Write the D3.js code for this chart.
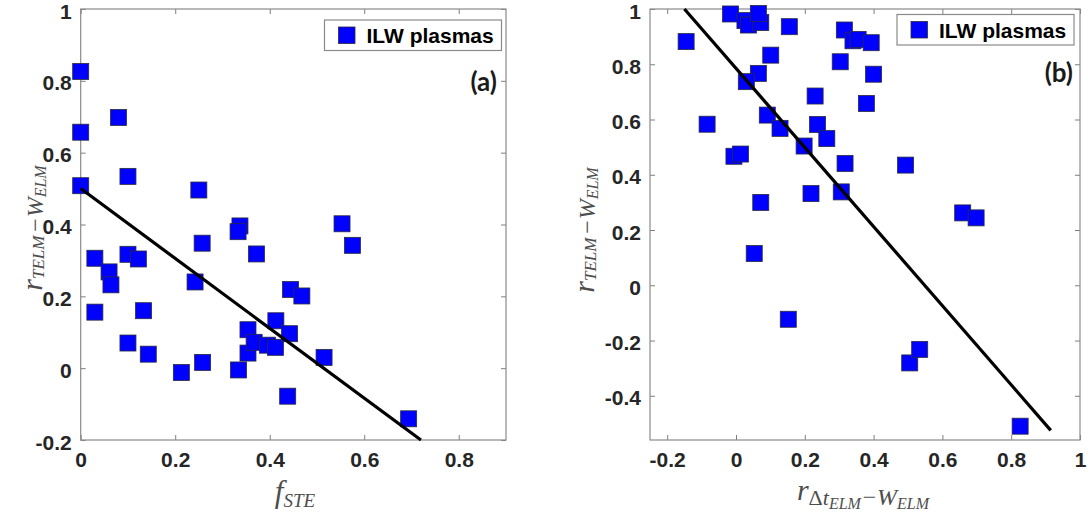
<!DOCTYPE html>
<meta charset="utf-8">
<style>
body { margin: 0; background: #fff; }
.tick text { font-family: "Liberation Sans", Arial, sans-serif; font-weight: bold; font-size: 21px; fill: #262626; }
.tick line { stroke: #7f7f7f; }
.frame { fill: none; stroke: #8a8a8a; stroke-width: 1.2px; }
.lab { font-family: "Liberation Serif", "DejaVu Serif", serif; font-style: italic; fill: #4d4d4d; }
.leg text { font-family: "Liberation Sans", Arial, sans-serif; font-weight: bold; font-size: 21px; fill: #000; }
.tag { font-family: Lato, "Open Sans", sans-serif; font-weight: bold; font-size: 26px; fill: #1a1a1a; }
</style>
<svg width="1090" height="516"></svg>
<script src="https://cdnjs.cloudflare.com/ajax/libs/d3/7.8.5/d3.min.js"></script>
<script>

// panel (a): f_STE vs r
var aX = [0, 0, 0, 0.08, 0.10, 0.03, 0.06, 0.064, 0.03, 0.10, 0.122, 0.133, 0.10, 0.143, 0.213, 0.258,
          0.25, 0.257, 0.242, 0.337, 0.333, 0.372, 0.334, 0.354, 0.354, 0.367, 0.395, 0.412, 0.413,
          0.442, 0.444, 0.468, 0.438, 0.515, 0.553, 0.575, 0.694];
var aY = [0.826, 0.657, 0.508, 0.698, 0.534, 0.306, 0.268, 0.232, 0.156, 0.317, 0.304, 0.160, 0.070,
          0.039, -0.012, 0.016, 0.496, 0.348, 0.240, 0.396, 0.38, 0.318, -0.005, 0.107, 0.042, 0.072,
          0.064, 0.058, 0.132, 0.096, 0.219, 0.201, -0.078, 0.030, 0.402, 0.342, -0.141];
var aFit = [[0, 0.5], [0.72, -0.2]];

// panel (b): r_dt vs r
var bX = [-0.145, -0.084, -0.016, 0.026, 0.036, 0.072, 0.065, 0.155, 0.101, 0.065, 0.030, 0.091,
          0.128, -0.006, 0.013, 0.072, 0.053, 0.152, 0.198, 0.230, 0.237, 0.264, 0.218, 0.303, 0.315,
          0.340, 0.355, 0.393, 0.400, 0.379, 0.317, 0.306, 0.493, 0.505, 0.534, 0.659, 0.698, 0.826];
var bY = [0.882, 0.583, 0.982, 0.958, 0.942, 0.951, 0.984, 0.936, 0.833, 0.767, 0.737, 0.616, 0.568,
          0.467, 0.475, 0.300, 0.115, -0.123, 0.504, 0.685, 0.582, 0.531, 0.332, 0.809, 0.924, 0.885,
          0.89, 0.878, 0.764, 0.658, 0.441, 0.338, 0.435, -0.281, -0.232, 0.262, 0.244, -0.510];
var bFit = [[-0.15, 1.0], [0.915, -0.525]];

var aXTicks = [0, 0.2, 0.4, 0.6, 0.8];
var aYTicks = [-0.2, 0, 0.2, 0.4, 0.6, 0.8, 1];
var bXTicks = [-0.2, 0, 0.2, 0.4, 0.6, 0.8, 1];
var bYTicks = [-0.4, -0.2, 0, 0.2, 0.4, 0.6, 0.8, 1];

var legendLabel = "ILW plasmas";

var svg = d3.select("svg");
// matlab style labels, plain hyphen for negatives
var fmt = function(d) { return String(+d.toFixed(1)); };

function panel(opt) {
  var x = d3.scaleLinear().domain(opt.xd).range(opt.xr);
  var y = d3.scaleLinear().domain(opt.yd).range([440, 9]);
  var g = svg.append("g");

  g.append("g").attr("transform", "translate(0,440)")
    .call(d3.axisBottom(x).tickValues(opt.xt).tickFormat(fmt).tickSizeInner(-5).tickSizeOuter(0).tickPadding(12));
  g.append("g").attr("transform", "translate(0,9)")
    .call(d3.axisTop(x).tickValues(opt.xt).tickFormat("").tickSizeInner(-5).tickSizeOuter(0));
  g.append("g").attr("class", "yax").attr("transform", "translate(" + opt.xr[0] + ",0)")
    .call(d3.axisLeft(y).tickValues(opt.yt).tickFormat(fmt).tickSizeInner(-5).tickSizeOuter(0).tickPadding(9));
  g.append("g").attr("transform", "translate(" + opt.xr[1] + ",0)")
    .call(d3.axisRight(y).tickValues(opt.yt).tickFormat("").tickSizeInner(-5).tickSizeOuter(0));
  g.selectAll(".domain").remove();
  g.selectAll(".yax .tick text").attr("dy", "0.43em");

  g.append("rect").attr("class", "frame")
    .attr("x", opt.xr[0]).attr("y", 9)
    .attr("width", opt.xr[1] - opt.xr[0]).attr("height", 431);

  var pts = opt.px.map(function(v, i) { return [v, opt.py[i]]; });
  g.append("g").selectAll("rect").data(pts).enter().append("rect")
    .attr("x", function(d) { return x(d[0]) - 8; })
    .attr("y", function(d) { return y(d[1]) - 8; })
    .attr("width", 16).attr("height", 16)
    .attr("fill", "#0000ff").attr("stroke", "#2a2a40").attr("stroke-width", 0.8);

  g.append("line")
    .attr("x1", x(opt.fit[0][0])).attr("y1", y(opt.fit[0][1]))
    .attr("x2", x(opt.fit[1][0])).attr("y2", y(opt.fit[1][1]))
    .attr("stroke", "#000").attr("stroke-width", 3.2);

  // legend
  var lg = g.append("g").attr("class", "leg");
  lg.append("rect").attr("x", opt.leg[0]).attr("y", opt.leg[1]).attr("width", 177).attr("height", 30.5)
    .attr("fill", "#fff").attr("stroke", "#8a8a8a").attr("stroke-width", 1.2);
  lg.append("rect").attr("x", opt.leg[0] + 14).attr("y", opt.leg[1] + 7).attr("width", 16.5).attr("height", 16.5)
    .attr("fill", "#0000ff").attr("stroke", "#2a2a40").attr("stroke-width", 0.8);
  lg.append("text").attr("x", opt.leg[0] + 42).attr("y", opt.leg[1] + 23).text(legendLabel);

  g.append("text").attr("class", "tag").attr("x", opt.tag[0]).attr("y", opt.tag[1])
    .attr("text-anchor", "end").text(opt.tagText);
}

panel({ xd: [0, 0.9], xr: [80.7, 506], yd: [-0.2, 1], xt: aXTicks, yt: aYTicks,
        px: aX, py: aY, fit: aFit, leg: [324.5, 20], tag: [497, 91], tagText: "(a)" });
panel({ xd: [-0.25, 1], xr: [650, 1080], yd: [-0.56, 1], xt: bXTicks, yt: bYTicks,
        px: bX, py: bY, fit: bFit, leg: [897, 14.5], tag: [1073, 82], tagText: "(b)" });

// axis labels
var la = svg.append("text").attr("class", "lab").attr("x", 295).attr("y", 502).attr("text-anchor", "middle");
la.append("tspan").attr("font-size", 31).text("f");
la.append("tspan").attr("font-size", 19).attr("dy", 5).text("STE");

function yLabel(cx, cy) {
  var t = svg.append("text").attr("class", "lab")
    .attr("transform", "translate(" + cx + "," + cy + ") rotate(-90)").attr("text-anchor", "middle");
  t.append("tspan").attr("font-size", 30).text("r");
  t.append("tspan").attr("font-size", 17).attr("dy", 2).text("TELM");
  t.append("tspan").attr("font-size", 24).attr("dx", 2).attr("dy", -1).text("\u2212W");
  t.append("tspan").attr("font-size", 16).attr("dy", 3).text("ELM");
}
yLabel(42, 228);
yLabel(594, 230);

var lb = svg.append("text").attr("class", "lab").attr("x", 863).attr("y", 500).attr("text-anchor", "middle");
lb.append("tspan").attr("font-size", 30).text("r");
lb.append("tspan").attr("font-size", 22).attr("dy", 5).attr("font-style", "normal").text("\u0394");
lb.append("tspan").attr("font-size", 22).text("t");
lb.append("tspan").attr("font-size", 16).attr("dy", 4).text("ELM");
lb.append("tspan").attr("font-size", 24).attr("dy", -4).text("\u2212W");
lb.append("tspan").attr("font-size", 16).attr("dy", 4).text("ELM");

</script>
